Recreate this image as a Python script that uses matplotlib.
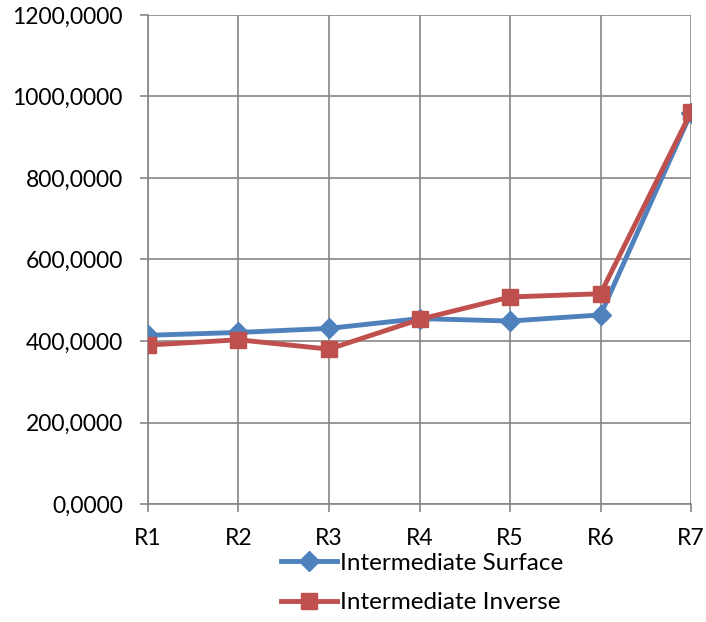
import matplotlib
matplotlib.use("Agg")
import matplotlib.pyplot as plt
from matplotlib.ticker import FuncFormatter

categories = ["R1", "R2", "R3", "R4", "R5", "R6", "R7"]
surface = [414, 421, 431, 455, 449, 464, 960]
inverse = [390, 403, 380, 453, 508, 516, 962]
y_ticks = [0, 200, 400, 600, 800, 1000, 1200]

plt.rcParams['font.family'] = ['Lato', 'DejaVu Sans']

fig = plt.figure(figsize=(7.06, 6.22), dpi=100)
ax = fig.add_axes([0.2096, 0.1897, 0.7692, 0.7862])

x = list(range(len(categories)))
grid_c = "#868686"
ax.plot(x, surface, color="#4F81BD", lw=3.5, marker="D", markersize=10,
        label="Intermediate Surface", zorder=3)
ax.plot(x, inverse, color="#C0504D", lw=3.5, marker="s", markersize=12,
        label="Intermediate Inverse", zorder=4)

ax.set_xlim(0, len(categories) - 1)
ax.set_ylim(0, 1200)
ax.set_xticks(x)
ax.set_xticklabels(categories)
ax.set_yticks(y_ticks)
ax.yaxis.set_major_formatter(FuncFormatter(lambda v, p: f"{v:.4f}".replace(".", ",")))
ax.grid(True, color=grid_c, lw=1.2)
ax.set_axisbelow(True)
for s in ["top", "right"]:
    ax.spines[s].set_visible(False)
for s in ["left", "bottom"]:
    ax.spines[s].set_color(grid_c)
    ax.spines[s].set_linewidth(1.2)
ax.tick_params(axis="both", colors=grid_c, length=6, width=1.2, labelsize=16.5,
               labelcolor="black")
ax.tick_params(axis="x", pad=11)
ax.tick_params(axis="y", pad=12)

ax.legend(loc="upper left", bbox_to_anchor=(0.245, -0.1), frameon=False,
          fontsize=17.5, handlelength=2.3, handletextpad=0.12, labelspacing=0.75,
          borderaxespad=0, borderpad=0)

fig.savefig("out.png", dpi=100)
